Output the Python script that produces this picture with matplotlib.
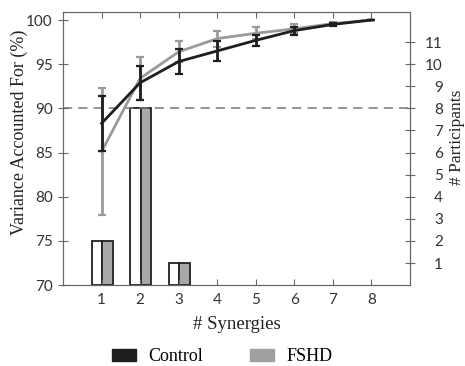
import numpy as np
import matplotlib.pyplot as plt
from matplotlib.patches import Patch

synergies = [1, 2, 3, 4, 5, 6, 7, 8]
control_vaf = [88.3, 92.9, 95.3, 96.5, 97.7, 98.8, 99.5, 100.0]
control_err = [3.1, 1.9, 1.45, 1.15, 0.6, 0.45, 0.15, 0.0]
fshd_vaf = [85.1, 93.4, 96.4, 97.9, 98.5, 99.0, 99.6, 100.0]
fshd_err = [7.2, 2.4, 1.2, 0.9, 0.7, 0.5, 0.2, 0.0]

bar_x = [1, 2, 3]
control_n = [2, 8, 1]
fshd_n = [2, 8, 1]

dark = '#1e1e1e'
gray = '#9a9a9a'
serif = 'Liberation Serif'
plt.rcParams['font.family'] = ['Lato', 'DejaVu Sans']

fig = plt.figure(figsize=(4.65, 3.66), dpi=100)
ax = fig.add_axes([0.1355, 0.221, 0.746, 0.746])
ax2 = ax.twinx()
ax.set_zorder(ax2.get_zorder() + 1)
ax.patch.set_visible(False)

# participant counts (right axis)
w = 0.27
x = np.array(bar_x)
ax2.bar(x - w / 2 + 0.02, control_n, width=w, color='white', edgecolor='#222222', linewidth=1.3)
ax2.bar(x + w / 2 + 0.02, fshd_n, width=w, color='#a8a8a8', edgecolor='#222222', linewidth=1.3)

# variance accounted for (left axis)
ax.axhline(90, color='#777777', linestyle=(0, (6, 4)), linewidth=1.1, zorder=1)
ax.errorbar(synergies, control_vaf, yerr=control_err, color=dark, linewidth=2,
            elinewidth=2, capsize=3, capthick=1.6, zorder=3)
ax.errorbar(synergies, fshd_vaf, yerr=fshd_err, color=gray, linewidth=2,
            elinewidth=2, capsize=3, capthick=1.6, zorder=2)

ax.set_xlim(0, 9)
ax.set_ylim(70, 100.9)
ax2.set_ylim(0, (100.9 - 70) / 2.5)
ax.set_xticks(synergies)
ax.set_yticks([70, 75, 80, 85, 90, 95, 100])
ax2.set_yticks(range(1, 12))

for a in (ax, ax2):
    for s in a.spines.values():
        s.set_color('#666666')
ax.tick_params(axis='x', direction='in', length=4, top=True, color='#666666',
               labelcolor='#333333', labelsize=11, pad=6)
ax.tick_params(axis='y', direction='inout', length=7, right=False, color='#666666',
               labelcolor='#333333', labelsize=11, pad=4)
ax2.tick_params(axis='y', direction='inout', length=7, color='#666666',
                labelcolor='#333333', labelsize=11, pad=4)
for lab in ax2.get_yticklabels():
    lab.set_horizontalalignment('right')
    lab.set_x(1.065)

ax.set_xlabel('# Synergies', fontfamily=serif, fontsize=13.5, color='#222222', labelpad=6)
ax.set_ylabel('Variance Accounted For (%)', fontfamily=serif, fontsize=13, color='#222222')
ax.yaxis.set_label_coords(-0.101, 0.56)
ax2.set_ylabel('# Participants', fontfamily=serif, fontsize=12.5, color='#222222')
ax2.yaxis.set_label_coords(1.112, 0.54)

handles = [Patch(color=dark, label='Control'), Patch(color='#a0a0a0', label='FSHD')]
fig.legend(handles=handles, loc='center', bbox_to_anchor=(0.478, 0.026), ncol=2,
           frameon=False, prop={'family': serif, 'size': 13}, handlelength=1.3,
           handleheight=0.65, columnspacing=2.6, handletextpad=0.7)

fig.savefig('out.png', dpi=100)
